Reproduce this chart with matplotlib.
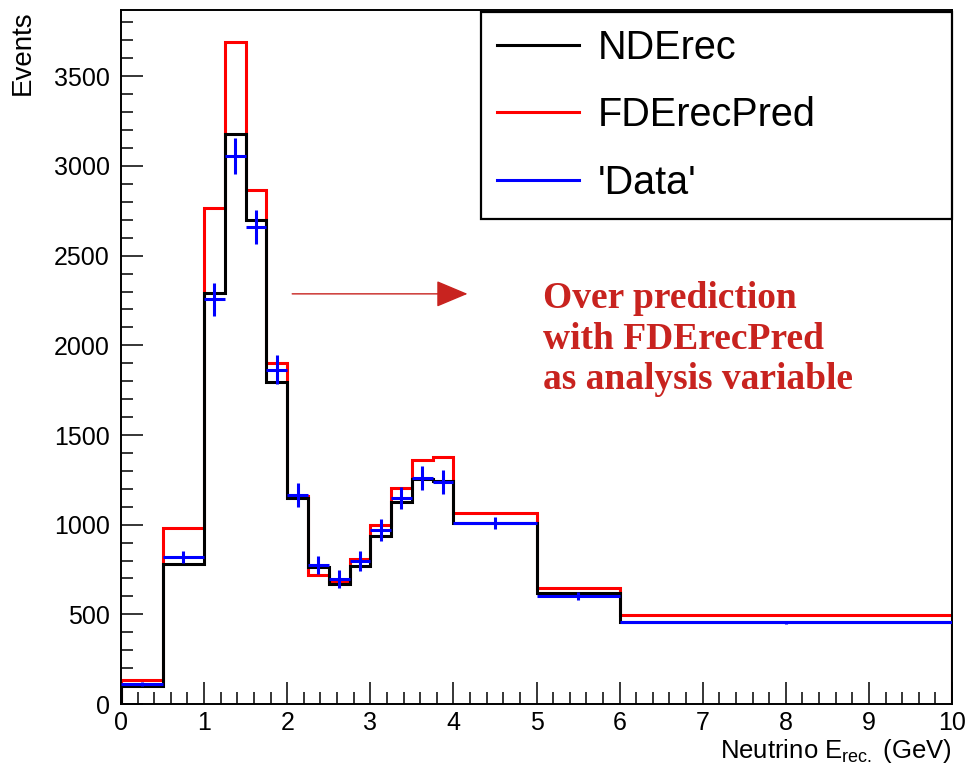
import matplotlib
matplotlib.use("Agg")
import matplotlib.pyplot as plt
from matplotlib.ticker import MultipleLocator
import numpy as np

plt.rcParams['font.family'] = ['Liberation Sans', 'DejaVu Sans']
plt.rcParams['mathtext.fontset'] = 'custom'
plt.rcParams['mathtext.rm'] = 'Liberation Sans'
plt.rcParams['mathtext.it'] = 'Liberation Sans:italic'

# bin edges in GeV
edges = [0, 0.5, 1, 1.25, 1.5, 1.75, 2, 2.25, 2.5, 2.75, 3, 3.25, 3.5, 3.75, 4, 5, 6, 10]

nderec = [100, 781, 2292, 3179, 2699, 1796, 1149, 764, 669, 770, 937, 1127, 1255, 1244, 1012, 619, 457]
fderec_pred = [134, 982, 2766, 3692, 2867, 1902, 1160, 719, 680, 809, 998, 1205, 1361, 1378, 1065, 647, 496]
data = [112, 820, 2256, 3056, 2660, 1863, 1166, 775, 697, 798, 970, 1149, 1260, 1238, 1010, 602, 455]
data_err = [13, 36, 90, 100, 93, 81, 67, 51, 49, 56, 59, 63, 67, 68, 33, 23, 8]

edges_arr = np.array(edges)
centers = 0.5 * (edges_arr[1:] + edges_arr[:-1])
half_w = 0.5 * (edges_arr[1:] - edges_arr[:-1])

red = '#ff0000'
blue = '#0000ff'
note_red = '#c8231f'

fig = plt.figure(figsize=(9.68, 7.65), dpi=100)
ax = fig.add_axes([0.125, 0.0797, 0.8585, 0.9073])

ax.stairs(fderec_pred, edges, color=red, lw=2.2, zorder=2)
ax.stairs(nderec, edges, color='black', lw=2.2, zorder=3)
ax.errorbar(centers, data, xerr=half_w, yerr=data_err, fmt='none',
            ecolor=blue, elinewidth=2.2, capsize=0, zorder=4)

# legend proxies
h1, = ax.plot([], [], color='black', lw=2.2, label='NDErec')
h2, = ax.plot([], [], color=red, lw=2.2, label='FDErecPred')
h3, = ax.plot([], [], color=blue, lw=2.2, label="'Data'")

ax.set_xlim(0, 10)
ax.set_ylim(0, 3870)

ax.xaxis.set_major_locator(MultipleLocator(1))
ax.xaxis.set_minor_locator(MultipleLocator(0.2))
ax.yaxis.set_major_locator(MultipleLocator(500))
ax.yaxis.set_minor_locator(MultipleLocator(100))
ax.tick_params(which='both', direction='in', top=False, right=False, width=1.1, labelsize=18)
ax.tick_params(which='major', length=15.5, pad=8)
ax.tick_params(axis='x', which='major', pad=5)
ax.tick_params(which='minor', length=8.5)
for s in ax.spines.values():
    s.set_linewidth(1.4)

ax.set_ylabel('Events', fontsize=20)
ax.yaxis.set_label_coords(-0.102, 1.0)
ax.yaxis.label.set_horizontalalignment('right')
ax.set_xlabel('Neutrino E$_{\\mathrm{rec.}}$ (GeV)', fontsize=18.5)
ax.xaxis.set_label_coords(1.0, -0.047)
ax.xaxis.label.set_horizontalalignment('right')

leg = ax.legend(handles=[h1, h2, h3], loc='upper left', bbox_to_anchor=(0.433, 0.997, 0.567, 0.0),
                mode='expand', borderaxespad=0, fontsize=28.5, fancybox=False, framealpha=1,
                edgecolor='black', handlelength=2.05, handletextpad=0.48, labelspacing=0.75,
                borderpad=0.42)
leg.get_frame().set_linewidth(1.6)

# annotation
ax.annotate('', xy=(4.17, 2287), xytext=(2.06, 2287),
            arrowprops=dict(arrowstyle='-|>,head_length=1.0,head_width=0.42', mutation_scale=20,
                            color=note_red, lw=1.0, shrinkA=0, shrinkB=0))
ax.text(5.08, 2358, 'Over prediction\nwith FDErecPred\nas analysis variable',
        color=note_red, fontsize=27, fontweight='bold', family='Liberation Serif',
        ha='left', va='top', linespacing=1.2)

fig.savefig('out.png', dpi=100)
